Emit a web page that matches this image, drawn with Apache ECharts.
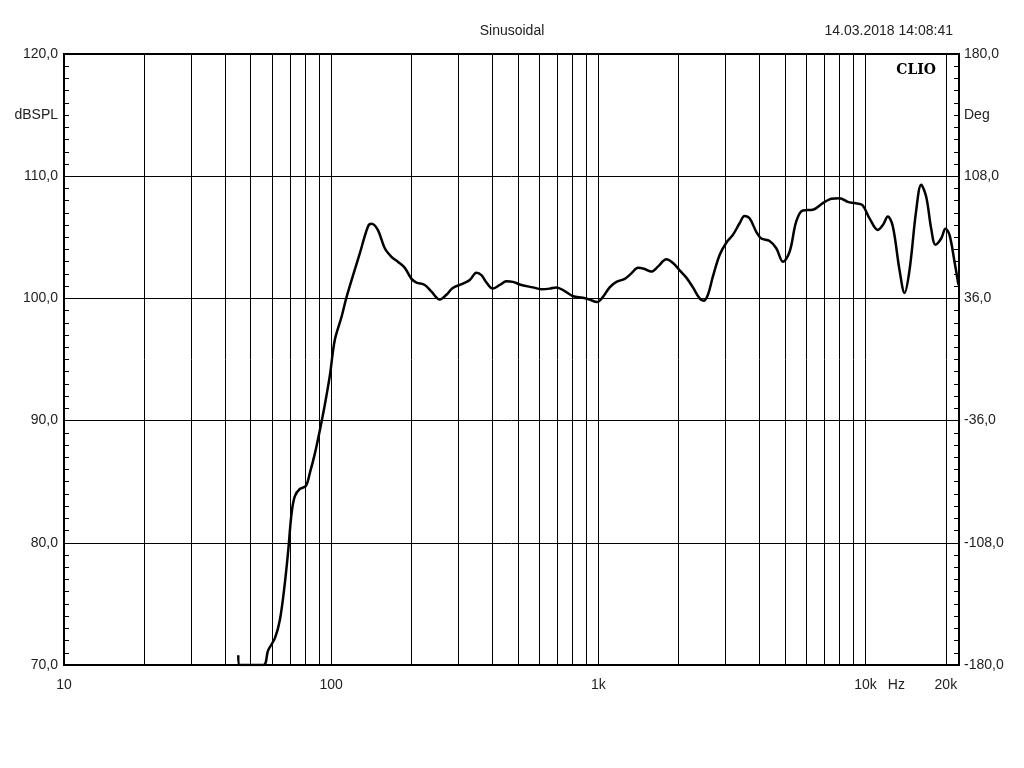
<!DOCTYPE html>
<html>
<head>
<meta charset="utf-8">
<script src="https://cdn.jsdelivr.net/npm/echarts@6/dist/echarts.min.js"></script>
<style>html,body{margin:0;padding:0;background:#fff}#c{width:1024px;height:768px}</style>
</head>
<body>
<div id="c"></div>
<script>
const freqs = [44.9,45.5,55.7,58.1,61.6,64.3,67.1,69.1,71.1,73.1,76.3,80.4,83.2,86.9,90.7,94.7,98.9,103.2,109.4,114.2,
  128.1,137.5,141.6,149.5,158.8,168.2,177.7,188.7,199.9,208.7,224.2,237.5,255.1,270.2,285.3,311.0,330.3,349.9,365.3,381.4,
  402.6,427.6,453.1,478.4,515.6,568.5,612.6,658.0,696.9,748.6,802.2,874.4,928.6,988.8,1039,1103,1169,1256,1330,1408,
  1492,1580,1672,1798,1904,2016,2136,2261,2395,2480,2573,2686,2846,3014,3190,3381,3528,3684,3903,4075,
  4377,4638,4910,5200,5509,5832,6358,6928,7449,8002,8595,9104,9728,10360,11130,11620,12130,12660,13420,14010,
  14620,15490,16170,16890,17630,18290,19210,19940,20640,21550,22300];
const spl = [70.8,70.0,70.0,71.2,72.2,73.7,76.7,79.4,82.4,83.8,84.4,84.65,85.7,87.3,89.2,91.3,93.7,96.6,98.5,100.1,
  103.7,105.9,106.1,105.6,104.1,103.4,103.0,102.5,101.6,101.3,101.1,100.55,99.9,100.3,100.85,101.2,101.5,102.1,101.9,101.3,
  100.8,101.1,101.4,101.35,101.1,100.9,100.75,100.8,100.9,100.6,100.2,100.05,99.9,99.7,100.1,100.9,101.35,101.6,102.05,102.5,
  102.4,102.2,102.6,103.2,102.9,102.3,101.7,100.9,100.0,99.8,100.3,101.8,103.55,104.55,105.2,106.15,106.75,106.55,105.45,104.9,
  104.7,104.1,103.0,103.8,106.3,107.2,107.25,107.8,108.15,108.2,107.9,107.8,107.65,106.55,105.6,106.0,106.7,105.9,102.3,100.45,
  102.3,107.2,109.3,108.3,105.7,104.4,104.9,105.7,105.2,103.0,101.1];
const gridFreqs = [20,30,40,50,60,70,80,90,200,300,400,500,600,700,800,900,2000,3000,4000,5000,6000,7000,8000,9000,20000];
const xLabelValues = [10,100,1000,10000,13060,20000];
const xLabelText = {10:'10',100:'100',1000:'1k',10000:'10k',13060:'Hz',20000:'20k'};
const splTicks = [70,80,90,100,110,120];
const degTicks = [-180,-108,-36,36,108,180];
const splUnitAt = 115, degUnitAt = 144;

const fmt = v => v.toFixed(1).replace('.', ',');
const font = 'Liberation Sans';
const chart = echarts.init(document.getElementById('c'));
chart.setOption({
  animation: false,
  backgroundColor: '#fff',
  title: [
    {text: 'Sinusoidal', left: 'center', top: 19, textStyle: {fontFamily: font, fontSize: 14, fontWeight: 'normal', color: '#222'}},
    {text: '14.03.2018 14:08:41', right: 66, top: 19, textStyle: {fontFamily: font, fontSize: 14, fontWeight: 'normal', color: '#222'}},
    {text: 'CLIO', right: 83, top: 58, textStyle: {fontFamily: 'DejaVu Serif', fontSize: 14, fontWeight: 'bold', color: '#000'}}
  ],
  grid: {left: 64, top: 54, width: 895, height: 611, show: true, borderColor: '#000', borderWidth: 2, containLabel: false},
  xAxis: {
    type: 'log', logBase: 10, min: 10, max: 22400,
    axisLine: {show: true, onZero: false, lineStyle: {color: '#000', width: 2}},
    axisTick: {show: false},
    splitLine: {show: true, lineStyle: {color: '#000', width: 1}},
    axisLabel: {customValues: xLabelValues, formatter: v => xLabelText[Math.round(v)] || '', fontFamily: font, fontSize: 14, color: '#222', margin: 13, showMinLabel: true, showMaxLabel: true}
  },
  yAxis: [
    {type: 'value', min: 70, max: 120, interval: 10, position: 'left',
     axisLine: {show: true, onZero: false, lineStyle: {color: '#000', width: 2}},
     axisTick: {show: true, inside: true, length: 5, lineStyle: {color: '#000'}},
     minorTick: {show: true, splitNumber: 10, length: 5, lineStyle: {color: '#000'}},
     splitLine: {show: true, lineStyle: {color: '#000', width: 1}},
     axisLabel: {customValues: splTicks.concat([splUnitAt]), formatter: v => v === splUnitAt ? 'dBSPL' : fmt(v), fontFamily: font, fontSize: 14, color: '#222', margin: 6}
    },
    {type: 'value', min: -180, max: 180, interval: 72, position: 'right',
     axisLine: {show: true, onZero: false, lineStyle: {color: '#000', width: 2}},
     axisTick: {show: true, inside: true, length: 5, lineStyle: {color: '#000'}},
     minorTick: {show: true, splitNumber: 10, length: 5, lineStyle: {color: '#000'}},
     splitLine: {show: false},
     axisLabel: {customValues: degTicks.concat([degUnitAt]), formatter: v => v === degUnitAt ? 'Deg' : fmt(v), fontFamily: font, fontSize: 14, color: '#222', margin: 5}
    }
  ],
  series: [{
    type: 'line', yAxisIndex: 0, showSymbol: false, smooth: 0.35,
    data: freqs.map((f, i) => [f, spl[i]]),
    lineStyle: {color: '#000', width: 2.5},
    z: 5,
    markLine: {
      silent: true, symbol: 'none', animation: false,
      label: {show: false},
      lineStyle: {color: '#000', width: 1, type: 'solid'},
      data: gridFreqs.map(f => ({xAxis: f}))
    }
  }]
});
</script>
</body>
</html>
